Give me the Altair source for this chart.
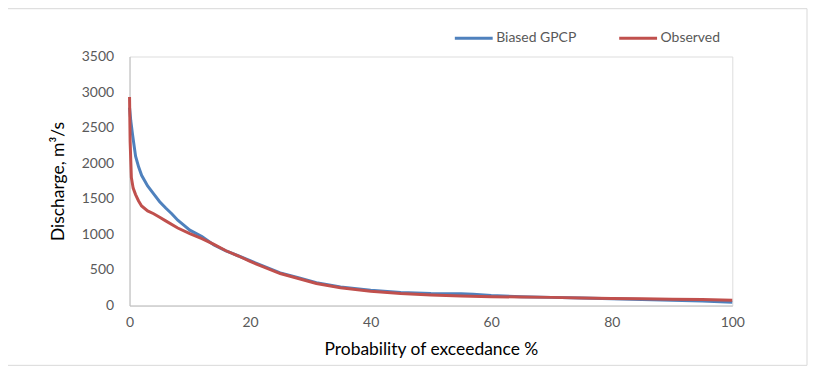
import altair as alt
import pandas as pd

# Biased GPCP flow-duration curve
blue_p = [0, 0.2, 0.5, 1, 1.5, 2, 3, 4, 5, 6, 7, 8, 9, 10, 12, 14, 16, 18, 20, 22, 25, 28, 31, 35, 40, 45, 50, 55, 57, 60, 65, 70, 75, 80, 85, 90, 95, 100]
blue_v = [2780, 2600, 2400, 2100, 1950, 1830, 1680, 1570, 1460, 1370, 1290, 1200, 1130, 1060, 970, 850, 770, 700, 630, 560, 460, 390, 320, 260, 215, 185, 170, 165, 160, 140, 125, 115, 105, 95, 85, 75, 65, 45]

# Observed flow-duration curve
red_p = [0, 0.1, 0.3, 0.6, 1, 1.5, 2, 3, 4, 5, 6, 8, 10, 12, 14, 16, 18, 20, 22, 25, 28, 31, 35, 40, 45, 50, 55, 60, 65, 70, 75, 80, 85, 90, 95, 100]
red_v = [2930, 2300, 1800, 1650, 1560, 1470, 1400, 1330, 1290, 1240, 1190, 1090, 1010, 940, 860, 770, 700, 620, 550, 450, 380, 310, 250, 200, 170, 150, 135, 125, 120, 115, 105, 100, 95, 90, 85, 75]

series_names = ["Biased GPCP", "Observed"]
series_colors = ["#4F81BD", "#C0504D"]
x_ticks = [0, 20, 40, 60, 80, 100]
y_ticks = [0, 500, 1000, 1500, 2000, 2500, 3000, 3500]

df = pd.concat([
    pd.DataFrame({"p": blue_p, "v": blue_v, "s": series_names[0], "o": range(len(blue_p))}),
    pd.DataFrame({"p": red_p, "v": red_v, "s": series_names[1], "o": range(len(red_p))}),
])

FONT = "Lato"

border = alt.Chart(pd.DataFrame({"a": [0]})).mark_rect(
    fillOpacity=0, stroke="#D9D9D9", strokeWidth=1
).encode(
    x=alt.value(-125), x2=alt.value(680), y=alt.value(-48), y2=alt.value(310)
)

lines = alt.Chart(df).mark_line(strokeWidth=3).encode(
    x=alt.X("p:Q", scale=alt.Scale(domain=[0, 100], nice=False),
            axis=alt.Axis(values=x_ticks, title="Probability of exceedance %", grid=False,
                          ticks=False, domainColor="#BFBFBF", labelColor="#595959",
                          labelFontSize=14, labelPadding=10, labelFlush=False,
                          format="d", titleFontSize=17.5,
                          titleFontWeight="normal", titleColor="#000000", titlePadding=11,
                          labelFont=FONT, titleFont=FONT)),
    y=alt.Y("v:Q", scale=alt.Scale(domain=[0, 3500], nice=False),
            axis=alt.Axis(values=y_ticks, title="Discharge, m³/s", grid=False,
                          ticks=False, domainColor="#BFBFBF", labelColor="#595959",
                          labelFontSize=14, labelPadding=16, format="d", titleFontSize=17.5,
                          titleFontWeight="normal", titleColor="#000000", titlePadding=14,
                          labelFont=FONT, titleFont=FONT)),
    color=alt.Color("s:N", scale=alt.Scale(domain=series_names, range=series_colors),
                    legend=alt.Legend(title=None, orient="none", direction="horizontal",
                                      legendX=325, legendY=-39, symbolType="stroke",
                                      symbolSize=1444, symbolStrokeWidth=3,
                                      labelFontSize=14, labelColor="#595959", labelFont=FONT,
                                      labelOffset=2, columnPadding=36)),
    order="o:Q",
)

chart = alt.layer(border, lines).properties(
    width=605, height=250,
    autosize=alt.AutoSizeParams(type="none"),
    padding={"left": 122, "top": 48, "right": 76, "bottom": 62},
).configure_view(stroke=None).configure(background="white")

chart.save("out.html", embed_options={"renderer": "svg", "actions": False})
